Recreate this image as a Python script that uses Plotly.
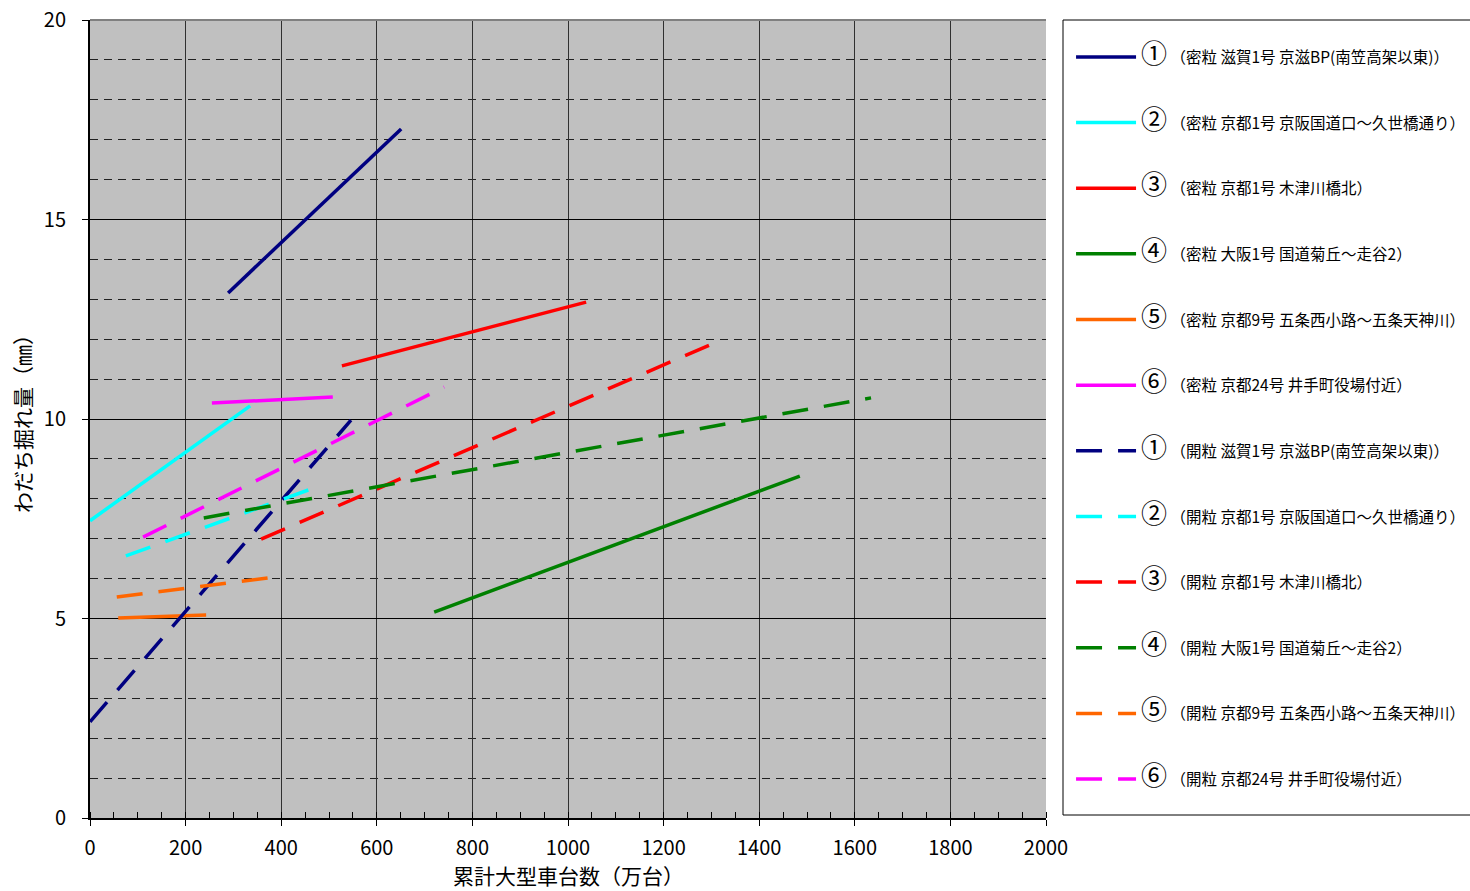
import plotly.graph_objects as go

# ---- data ----
names = [
    "（密粒 滋賀1号 京滋BP(南笠高架以東)）",
    "（密粒 京都1号 京阪国道口～久世橋通り）",
    "（密粒 京都1号 木津川橋北）",
    "（密粒 大阪1号 国道菊丘～走谷2）",
    "（密粒 京都9号 五条西小路～五条天神川）",
    "（密粒 京都24号 井手町役場付近）",
    "（開粒 滋賀1号 京滋BP(南笠高架以東)）",
    "（開粒 京都1号 京阪国道口～久世橋通り）",
    "（開粒 京都1号 木津川橋北）",
    "（開粒 大阪1号 国道菊丘～走谷2）",
    "（開粒 京都9号 五条西小路～五条天神川）",
    "（開粒 京都24号 井手町役場付近）",
]
marks = ["①", "②", "③", "④", "⑤", "⑥"] * 2

x_start = [289, 0, 527, 720, 59, 255, 0, 75, 358, 238, 56, 111]
x_end = [651, 335, 1038, 1485, 243, 508, 546, 475, 1305, 1634, 387, 741]
y_start = [13.16, 7.45, 11.33, 5.16, 5.01, 10.40, 2.41, 6.57, 6.99, 7.52, 5.54, 7.04]
y_end = [17.27, 10.33, 12.93, 8.57, 5.09, 10.55, 9.97, 8.30, 11.90, 10.53, 6.04, 10.80]

colors = ["#000080", "#00FFFF", "#FF0000", "#008000", "#FF6600", "#FF00FF"] * 2
dashes = ["solid"] * 6 + ["26px,16px"] * 6

x_ticks = [0, 200, 400, 600, 800, 1000, 1200, 1400, 1600, 1800, 2000]
y_ticks = [0, 5, 10, 15, 20]
x_title = "累計大型車台数（万台）"
y_title = "わだち掘れ量（㎜）"

FONT = "Noto Sans CJK JP"

fig = go.Figure()
for i in range(len(names)):
    label = ('<span style="font-size:26px">' + marks[i] + '</span> '
             + names[i])
    fig.add_trace(go.Scatter(
        x=[x_start[i], x_end[i]], y=[y_start[i], y_end[i]],
        mode="lines", name=label, legendgroup=str(i),
        line=dict(color=colors[i], width=3.5, dash=dashes[i]),
    ))

fig.update_layout(
    width=1470, height=891,
    margin=dict(l=90, r=424, t=20, b=73, autoexpand=False),
    paper_bgcolor="white", plot_bgcolor="#C0C0C0",
    font=dict(family=FONT, color="black", size=20),
    showlegend=True,
    legend=dict(
        x=1.0262, xanchor="left", y=0.9745, yanchor="top",
        bgcolor="rgba(0,0,0,0)", borderwidth=0,
        font=dict(family=FONT, size=15.5, color="black"),
        tracegroupgap=42.5, itemwidth=60,
        traceorder="grouped",
    ),
    xaxis=dict(
        range=[0, 2000], tickvals=x_ticks, ticktext=[str(v) for v in x_ticks],
        showgrid=True, gridcolor="#303030", gridwidth=1,
        showline=True, linecolor="black", linewidth=2,
        ticks="outside", ticklen=6, tickcolor="black",
        ticklabelstandoff=5, ticklabeloverflow="allow",
        minor=dict(dtick=50, ticks="inside", ticklen=6, tickcolor="black", showgrid=False),
        zeroline=False,
        tickfont=dict(size=20),
    ),
    yaxis=dict(
        range=[0, 20], tickvals=y_ticks, ticktext=[str(v) for v in y_ticks],
        showgrid=True, gridcolor="black", gridwidth=1,
        showline=True, linecolor="black", linewidth=2,
        ticks="outside", ticklen=6, tickcolor="black",
        ticklabelstandoff=12, ticklabeloverflow="allow",
        minor=dict(dtick=1, showgrid=True, gridcolor="#202020", gridwidth=1,
                   griddash="8px,6px", ticks=""),
        zeroline=False,
        tickfont=dict(size=20),
    ),
)
# axis titles
fig.add_annotation(text=x_title, xref="paper", yref="paper", x=0.5, y=-0.0715,
                   xanchor="center", yanchor="middle", showarrow=False,
                   font=dict(family=FONT, size=21, color="black"))
fig.add_annotation(text=y_title, xref="paper", yref="paper", x=-0.0711, y=0.5,
                   xanchor="center", yanchor="middle", showarrow=False, textangle=-90,
                   font=dict(family=FONT, size=21, color="black"))
# legend frame and top border of the plot area
fig.add_shape(type="rect", xref="paper", yref="paper", layer="below",
              x0=(1063 - 90) / 956, x1=1.6, y0=3 / 798, y1=1.0,
              fillcolor="white", line=dict(color="black", width=1))
fig.add_shape(type="line", xref="paper", yref="paper", x0=0, x1=1, y0=1, y1=1,
              line=dict(color="#808080", width=2))

fig.write_html("out.html",
               config={"displayModeBar": False},
               post_script="document.body.style.margin='0';"
                           "document.body.style.overflow='hidden';")
